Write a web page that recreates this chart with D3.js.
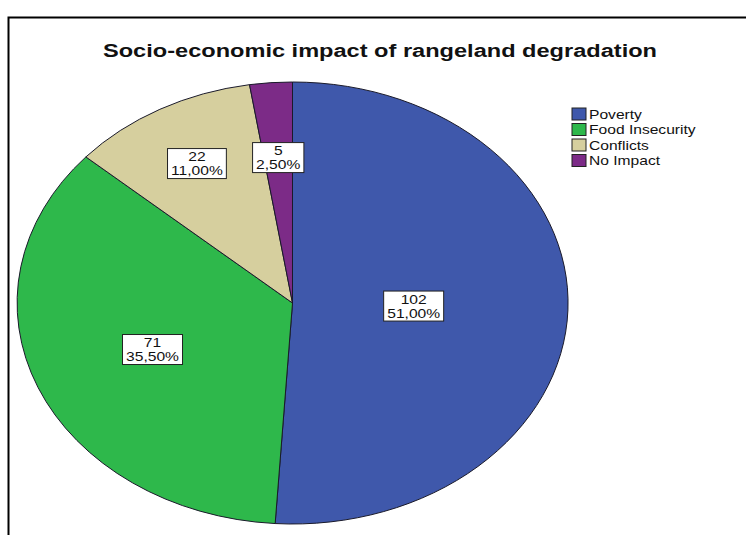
<!DOCTYPE html>
<html>
<head>
<meta charset="utf-8">
<script src="https://cdn.jsdelivr.net/npm/d3@7"></script>
<style>
  html, body { margin: 0; padding: 0; background: #fff; }
  svg { display: block; }
</style>
</head>
<body>
<svg id="chart" width="746" height="535"></svg>
<script>
// ---- data ----
const categories = ["Poverty", "Food Insecurity", "Conflicts", "No Impact"];
const counts = [102, 71, 22, 5];
const percentLabels = ["51,00%", "35,50%", "11,00%", "2,50%"];
const colors = ["#3f58ab", "#2eb84b", "#d6cf9e", "#7c2b87"];
const titleText = "Socio-economic impact of rangeland degradation";

// ---- layout ----
const W = 746, H = 535;
const cx = 292.5, cy = 303, rx = 275.5, ry = 221;
const labelFrac = [0.44, 0.55, 0.72, 0.66];
const stretch = 1.25; // horizontal stretch of the original rendering
const font = "Liberation Sans, Arial, sans-serif";

const svg = d3.select("#chart");

// frame (open at right and bottom, as cropped)
svg.append("path")
  .attr("d", `M8.5,${H + 5} L8.5,17.5 L${W + 5},17.5`)
  .attr("fill", "none")
  .attr("stroke", "#000")
  .attr("stroke-width", 2);

// title (stretched horizontally like the source)
svg.append("g")
  .attr("transform", `translate(380,57) scale(1.31,1)`)
  .append("text")
  .attr("text-anchor", "middle")
  .attr("font-family", font)
  .attr("font-weight", "bold")
  .attr("font-size", 18)
  .attr("fill", "#111")
  .text(titleText);

// pie (unit circle scaled into an ellipse)
const pie = d3.pie().sort(null).value(d => d)
  .startAngle(0).endAngle(2 * Math.PI);
const arcs = pie(counts);
const arc = d3.arc().innerRadius(0).outerRadius(1);

const g = svg.append("g")
  .attr("transform", `translate(${cx},${cy}) scale(${rx},${ry})`);

g.selectAll("path.slice")
  .data(arcs)
  .enter().append("path")
  .attr("class", "slice")
  .attr("d", arc)
  .attr("fill", (d, i) => colors[i])
  .attr("stroke", "#1a1a2a")
  .attr("stroke-width", 1)
  .attr("vector-effect", "non-scaling-stroke");

// labels
arcs.forEach((d, i) => {
  const a = (d.startAngle + d.endAngle) / 2;
  const f = labelFrac[i];
  const x = cx + rx * f * Math.sin(a);
  const y = cy - ry * f * Math.cos(a);
  const lg = svg.append("g").attr("transform", `translate(${x},${y})`);
  const t1 = String(counts[i]);
  const t2 = percentLabels[i];
  const tmp = lg.append("text")
    .attr("font-family", font).attr("font-size", 12.5)
    .text(t2.length > t1.length ? t2 : t1);
  const tw = tmp.node().getComputedTextLength() * stretch;
  tmp.remove();
  const bw = tw + 7, bh = 30;
  lg.append("rect")
    .attr("x", -bw / 2).attr("y", -bh / 2)
    .attr("width", bw).attr("height", bh)
    .attr("fill", "#fff")
    .attr("stroke", "#222")
    .attr("stroke-width", 1);
  const tg = lg.append("g").attr("transform", `scale(${stretch},1)`);
  tg.append("text")
    .attr("text-anchor", "middle")
    .attr("y", -2.5)
    .attr("font-family", font).attr("font-size", 12.5)
    .attr("fill", "#111")
    .text(t1);
  tg.append("text")
    .attr("text-anchor", "middle")
    .attr("y", 11.5)
    .attr("font-family", font).attr("font-size", 12.5)
    .attr("fill", "#111")
    .text(t2);
});

// legend
const legend = svg.append("g").attr("transform", "translate(572,108)");
const rowH = 15.5;
categories.forEach((c, i) => {
  const row = legend.append("g").attr("transform", `translate(0,${i * rowH})`);
  row.append("rect")
    .attr("x", 0).attr("y", 0)
    .attr("width", 14).attr("height", 12)
    .attr("fill", colors[i])
    .attr("stroke", "#222")
    .attr("stroke-width", 1);
  row.append("g")
    .attr("transform", `translate(17,10.5) scale(${stretch},1)`)
    .append("text")
    .attr("font-family", font)
    .attr("font-size", 12.5)
    .attr("fill", "#111")
    .text(c);
});
</script>
</body>
</html>
